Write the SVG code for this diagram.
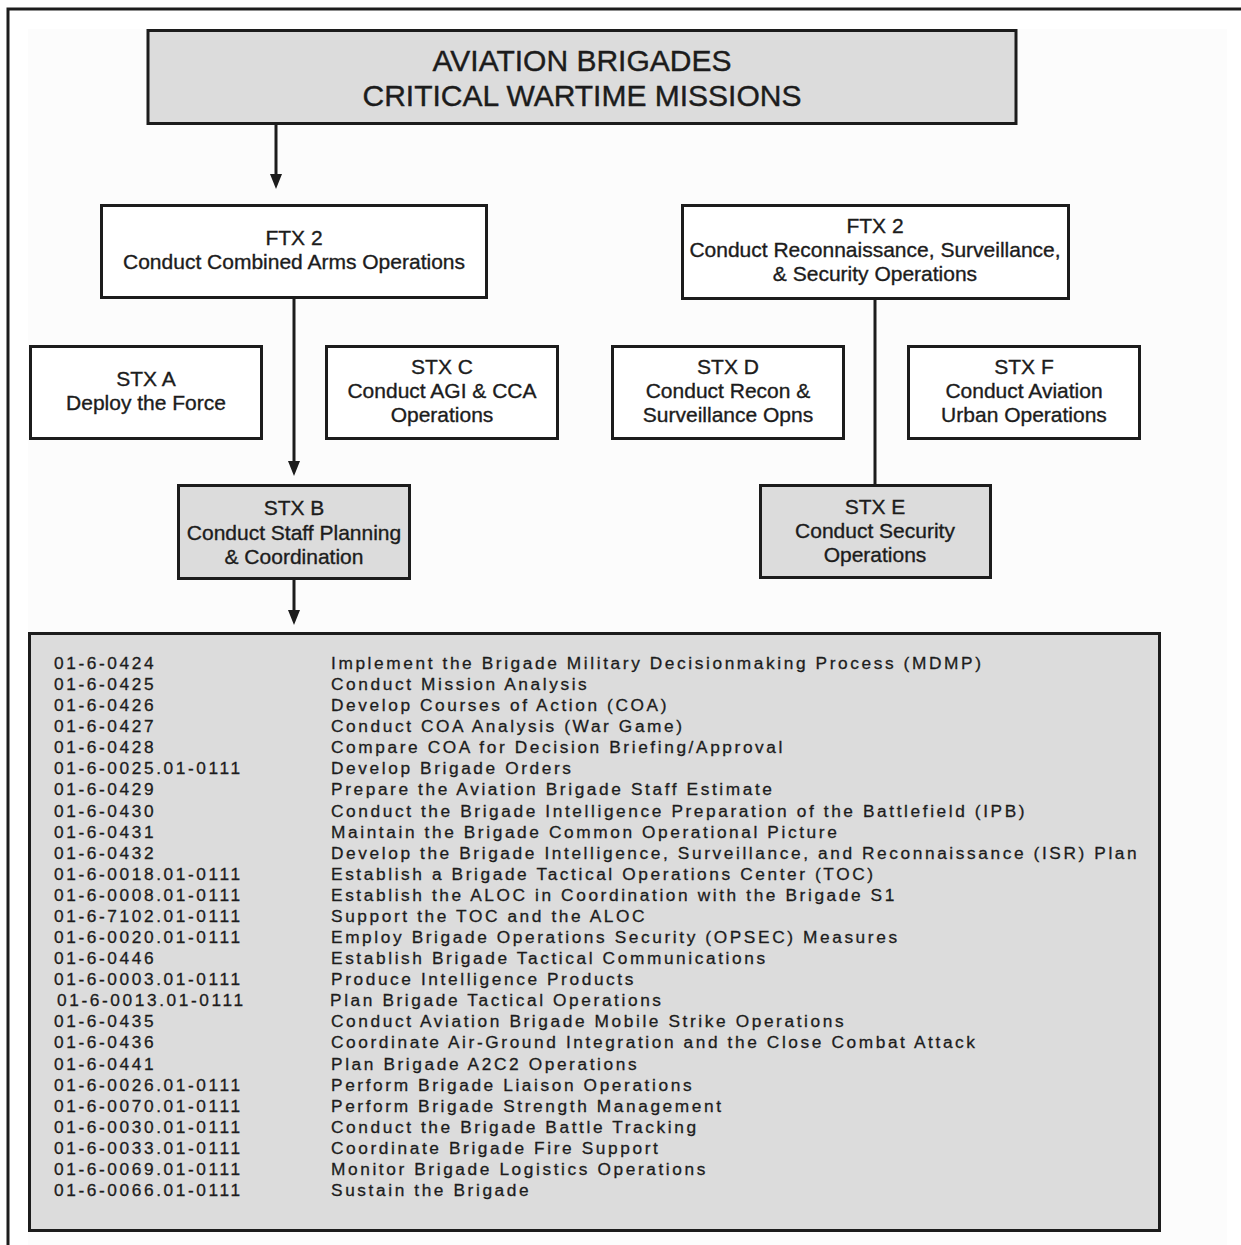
<svg xmlns="http://www.w3.org/2000/svg" width="1241" height="1245" viewBox="0 0 1241 1245">
  <defs>
    <style>
      .box { stroke: #1c1c1c; stroke-width: 3; }
      .plain { fill: #ffffff; }
      .shaded { fill: #dcdcdc; }
      .lbl { font-family: "Liberation Sans", Arial, sans-serif; font-size: 21px; fill: #1c1c1c; stroke: #1c1c1c; stroke-width: 0.35px; text-anchor: middle; }
      .title { font-family: "Liberation Sans", Arial, sans-serif; font-size: 30px; fill: #1c1c1c; stroke: #1c1c1c; stroke-width: 0.4px; text-anchor: middle; }
      .list { font-family: "Liberation Sans", Arial, sans-serif; font-size: 17.3px; letter-spacing: 2.6px; fill: #1c1c1c; stroke: #1c1c1c; stroke-width: 0.3px; }
      .wire { stroke: #1c1c1c; stroke-width: 3; fill: none; }
    </style>
    <marker id="head" markerUnits="userSpaceOnUse" viewBox="0 0 15 12" markerWidth="15" markerHeight="12" refX="0" refY="6" orient="auto">
      <path d="M0,0 L15,6 L0,12 Z" fill="#1c1c1c"/>
    </marker>
  </defs>

  <!-- page -->
  <rect x="0" y="0" width="1241" height="1245" fill="#ffffff"/>
  <rect x="28" y="29" width="1199" height="1216" fill="#fcfcfc"/>
  <path d="M8,1245 V9 H1241" fill="none" stroke="#1c1c1c" stroke-width="3"/>

  <!-- connectors -->
  <g id="connectors">
    <path class="wire" d="M276,124 V174" marker-end="url(#head)"/>
    <path class="wire" d="M294,297 V461" marker-end="url(#head)"/>
    <path class="wire" d="M294,579 V610" marker-end="url(#head)"/>
    <path class="wire" d="M875,299 V485"/>
  </g>

  <!-- mission header -->
  <g id="mission">
    <rect class="box shaded" x="148" y="30.5" width="868" height="93"/>
    <text class="title" x="582" y="71">AVIATION BRIGADES</text>
    <text class="title" x="582" y="106">CRITICAL WARTIME MISSIONS</text>
  </g>

  <!-- field training exercises -->
  <g id="ftx-combined-arms">
    <rect class="box plain" x="101.5" y="205.5" width="385" height="92"/>
    <text class="lbl" x="294" y="245">FTX 2</text>
    <text class="lbl" x="294" y="269">Conduct Combined Arms Operations</text>
  </g>

  <g id="ftx-recon-security">
    <rect class="box plain" x="682.5" y="205.5" width="386" height="93"/>
    <text class="lbl" x="875" y="233">FTX 2</text>
    <text class="lbl" x="875" y="257">Conduct Reconnaissance, Surveillance,</text>
    <text class="lbl" x="875" y="281">&amp; Security Operations</text>
  </g>

  <!-- situational training exercises -->
  <g id="stx-a">
    <rect class="box plain" x="30.5" y="346.5" width="231" height="92"/>
    <text class="lbl" x="146" y="386">STX A</text>
    <text class="lbl" x="146" y="410">Deploy the Force</text>
  </g>

  <g id="stx-c">
    <rect class="box plain" x="326.5" y="346.5" width="231" height="92"/>
    <text class="lbl" x="442" y="374">STX C</text>
    <text class="lbl" x="442" y="398">Conduct AGI &amp; CCA</text>
    <text class="lbl" x="442" y="422">Operations</text>
  </g>

  <g id="stx-b">
    <rect class="box shaded" x="178.5" y="485.5" width="231" height="93"/>
    <text class="lbl" x="294" y="515">STX B</text>
    <text class="lbl" x="294" y="540">Conduct Staff Planning</text>
    <text class="lbl" x="294" y="564">&amp; Coordination</text>
  </g>

  <g id="stx-d">
    <rect class="box plain" x="612.5" y="346.5" width="231" height="92"/>
    <text class="lbl" x="728" y="374">STX D</text>
    <text class="lbl" x="728" y="398">Conduct Recon &amp;</text>
    <text class="lbl" x="728" y="422">Surveillance Opns</text>
  </g>

  <g id="stx-f">
    <rect class="box plain" x="908.5" y="346.5" width="231" height="92"/>
    <text class="lbl" x="1024" y="374">STX F</text>
    <text class="lbl" x="1024" y="398">Conduct Aviation</text>
    <text class="lbl" x="1024" y="422">Urban Operations</text>
  </g>

  <g id="stx-e">
    <rect class="box shaded" x="760.5" y="485.5" width="230" height="92"/>
    <text class="lbl" x="875" y="514">STX E</text>
    <text class="lbl" x="875" y="538">Conduct Security</text>
    <text class="lbl" x="875" y="562">Operations</text>
  </g>

  <!-- collective task list for STX B -->
  <g id="task-list">
    <rect class="box shaded" x="29.5" y="633.5" width="1130" height="597"/>
    <text class="list">
      <tspan x="54" y="669">01-6-0424</tspan>
      <tspan x="54" dy="21.08">01-6-0425</tspan>
      <tspan x="54" dy="21.08">01-6-0426</tspan>
      <tspan x="54" dy="21.08">01-6-0427</tspan>
      <tspan x="54" dy="21.08">01-6-0428</tspan>
      <tspan x="54" dy="21.08">01-6-0025.01-0111</tspan>
      <tspan x="54" dy="21.08">01-6-0429</tspan>
      <tspan x="54" dy="21.08">01-6-0430</tspan>
      <tspan x="54" dy="21.08">01-6-0431</tspan>
      <tspan x="54" dy="21.08">01-6-0432</tspan>
      <tspan x="54" dy="21.08">01-6-0018.01-0111</tspan>
      <tspan x="54" dy="21.08">01-6-0008.01-0111</tspan>
      <tspan x="54" dy="21.08">01-6-7102.01-0111</tspan>
      <tspan x="54" dy="21.08">01-6-0020.01-0111</tspan>
      <tspan x="54" dy="21.08">01-6-0446</tspan>
      <tspan x="54" dy="21.08">01-6-0003.01-0111</tspan>
      <tspan x="57" dy="21.08">01-6-0013.01-0111</tspan>
      <tspan x="54" dy="21.08">01-6-0435</tspan>
      <tspan x="54" dy="21.08">01-6-0436</tspan>
      <tspan x="54" dy="21.08">01-6-0441</tspan>
      <tspan x="54" dy="21.08">01-6-0026.01-0111</tspan>
      <tspan x="54" dy="21.08">01-6-0070.01-0111</tspan>
      <tspan x="54" dy="21.08">01-6-0030.01-0111</tspan>
      <tspan x="54" dy="21.08">01-6-0033.01-0111</tspan>
      <tspan x="54" dy="21.08">01-6-0069.01-0111</tspan>
      <tspan x="54" dy="21.08">01-6-0066.01-0111</tspan>
    </text>
    <text class="list">
      <tspan x="331" y="669">Implement the Brigade Military Decisionmaking Process (MDMP)</tspan>
      <tspan x="331" dy="21.08">Conduct Mission Analysis</tspan>
      <tspan x="331" dy="21.08">Develop Courses of Action (COA)</tspan>
      <tspan x="331" dy="21.08">Conduct COA Analysis (War Game)</tspan>
      <tspan x="331" dy="21.08">Compare COA for Decision Briefing/Approval</tspan>
      <tspan x="331" dy="21.08">Develop Brigade Orders</tspan>
      <tspan x="331" dy="21.08">Prepare the Aviation Brigade Staff Estimate</tspan>
      <tspan x="331" dy="21.08">Conduct the Brigade Intelligence Preparation of the Battlefield (IPB)</tspan>
      <tspan x="331" dy="21.08">Maintain the Brigade Common Operational Picture</tspan>
      <tspan x="331" dy="21.08">Develop the Brigade Intelligence, Surveillance, and Reconnaissance (ISR) Plan</tspan>
      <tspan x="331" dy="21.08">Establish a Brigade Tactical Operations Center (TOC)</tspan>
      <tspan x="331" dy="21.08">Establish the ALOC in Coordination with the Brigade S1</tspan>
      <tspan x="331" dy="21.08">Support the TOC and the ALOC</tspan>
      <tspan x="331" dy="21.08">Employ Brigade Operations Security (OPSEC) Measures</tspan>
      <tspan x="331" dy="21.08">Establish Brigade Tactical Communications</tspan>
      <tspan x="331" dy="21.08">Produce Intelligence Products</tspan>
      <tspan x="330" dy="21.08">Plan Brigade Tactical Operations</tspan>
      <tspan x="331" dy="21.08">Conduct Aviation Brigade Mobile Strike Operations</tspan>
      <tspan x="331" dy="21.08">Coordinate Air-Ground Integration and the Close Combat Attack</tspan>
      <tspan x="331" dy="21.08">Plan Brigade A2C2 Operations</tspan>
      <tspan x="331" dy="21.08">Perform Brigade Liaison Operations</tspan>
      <tspan x="331" dy="21.08">Perform Brigade Strength Management</tspan>
      <tspan x="331" dy="21.08">Conduct the Brigade Battle Tracking</tspan>
      <tspan x="331" dy="21.08">Coordinate Brigade Fire Support</tspan>
      <tspan x="331" dy="21.08">Monitor Brigade Logistics Operations</tspan>
      <tspan x="331" dy="21.08">Sustain the Brigade</tspan>
    </text>
  </g>
</svg>
